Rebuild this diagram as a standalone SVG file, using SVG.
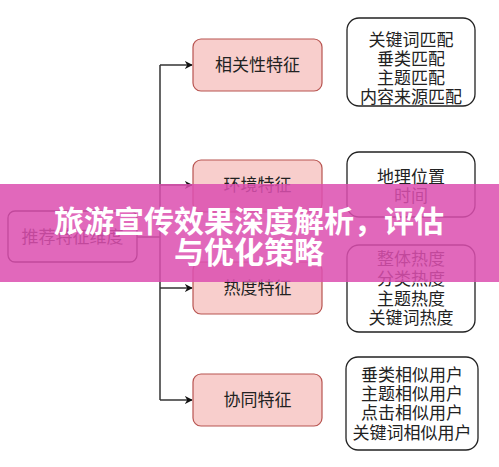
<svg xmlns="http://www.w3.org/2000/svg" width="499" height="467" viewBox="0 0 499 467">
<defs>
<style>
.t{font-family:"Noto Sans CJK SC","Liberation Sans",sans-serif;font-size:17px;fill:#222;text-anchor:middle}
.f{fill:#f8cecc;stroke:#b85450;stroke-width:1.2}
.b{fill:#fff;stroke:#222;stroke-width:1.3}
.c{fill:none;stroke:#333;stroke-width:1.5}
.h{font-family:"Noto Sans CJK SC","Liberation Sans",sans-serif;font-size:30px;font-weight:bold;fill:#fff;text-anchor:middle}
</style>
<marker id="a" viewBox="0 0 10 10" refX="9" refY="5" markerWidth="8" markerHeight="8" markerUnits="userSpaceOnUse" orient="auto">
<path d="M0,0 L10,5 L0,10 L3,5 Z" fill="#111"/>
</marker>
</defs>
<rect width="499" height="467" fill="#fff"/>
<g id="connectors">
<path class="c" d="M137,237 H160"/>
<path class="c" d="M160,65 V400"/>
<path class="c" d="M160,65 H192" marker-end="url(#a)"/>
<path class="c" d="M160,185 H192" marker-end="url(#a)"/>
<path class="c" d="M160,288 H192" marker-end="url(#a)"/>
<path class="c" d="M160,400 H192" marker-end="url(#a)"/>
</g>
<g id="root"><rect class="b" x="8" y="211" width="129" height="51" rx="7"/><text class="t" x="72.5" y="243">推荐特征维度</text></g>
<g id="f1"><rect class="f" x="193" y="39" width="129" height="52" rx="8"/><text class="t" x="257.5" y="71">相关性特征</text></g>
<g id="f2"><rect class="f" x="193" y="160" width="129" height="52" rx="8"/><text class="t" x="257.5" y="191">环境特征</text></g>
<g id="f3"><rect class="f" x="193" y="262" width="129" height="52" rx="8"/><text class="t" x="257.5" y="294">热度特征</text></g>
<g id="f4"><rect class="f" x="193" y="374" width="129" height="52" rx="8"/><text class="t" x="257.5" y="406">协同特征</text></g>
<g id="d1"><rect class="b" x="347" y="18" width="128" height="88" rx="12"/>
<text class="t" x="411" y="46">关键词匹配</text><text class="t" x="411" y="65">垂类匹配</text><text class="t" x="411" y="84">主题匹配</text><text class="t" x="411" y="103">内容来源匹配</text></g>
<g id="d2"><rect class="b" x="347" y="152" width="128" height="65" rx="12"/>
<text class="t" x="411" y="183">地理位置</text><text class="t" x="411" y="202">时间</text></g>
<g id="d3"><rect class="b" x="347" y="245" width="128" height="87" rx="12"/>
<text class="t" x="411" y="265">整体热度</text><text class="t" x="411" y="285">分类热度</text><text class="t" x="411" y="305">主题热度</text><text class="t" x="411" y="324">关键词热度</text></g>
<g id="d4"><rect class="b" x="346" y="357" width="132" height="93" rx="12"/>
<text class="t" x="412" y="381">垂类相似用户</text><text class="t" x="412" y="400">主题相似用户</text><text class="t" x="412" y="419">点击相似用户</text><text class="t" x="412" y="439">关键词相似用户</text></g>
<rect x="0" y="184" width="499" height="98" fill="#dc4fb0" opacity="0.86"/>
<text class="h" x="249" y="232">旅游宣传效果深度解析，评估</text>
<text class="h" x="249" y="263">与优化策略</text>
</svg>
